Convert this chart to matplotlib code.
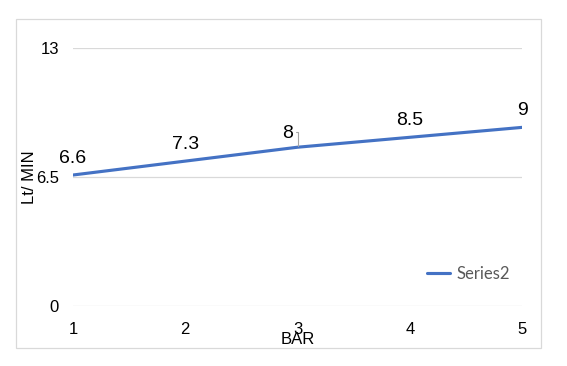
import matplotlib
matplotlib.use("Agg")
import matplotlib.pyplot as plt
from matplotlib.patches import Rectangle

# data
bars = [1, 2, 3, 4, 5]
flow = [6.6, 7.3, 8, 8.5, 9]
point_labels = ['6.6', '7.3', '8', '8.5', '9']
y_ticks = [0, 6.5, 13]
y_tick_labels = ['0', '6.5', '13']

plt.rcParams['font.family'] = ['Liberation Sans', 'DejaVu Sans']

fig = plt.figure(figsize=(5.67, 3.66), dpi=100)
ax = fig.add_axes([0.1287, 0.1639, 0.792, 0.705])

# chart border like the excel chart area
fig.patches.append(Rectangle((16 / 567, 1 - 348 / 366), (541 - 16) / 567, (348 - 19) / 366,
                             transform=fig.transFigure, fill=False,
                             edgecolor='#D9D9D9', linewidth=0.9))

ax.plot(bars, flow, color='#4472C4', linewidth=2.25, label='Series2',
        solid_capstyle='round', zorder=3)

# data labels
for x, y, lab in zip(bars, flow, point_labels):
    if lab == '8':
        ax.annotate(lab, xy=(x, y), xytext=(-7.2, 9.6), textcoords='offset points',
                    ha='center', va='center', fontsize=14,
                    arrowprops=dict(arrowstyle='-', color='#A6A6A6', lw=0.8,
                                    connectionstyle='angle,angleA=0,angleB=90,rad=0',
                                    relpos=(1, 0.62), shrinkA=0, shrinkB=1))
    else:
        ax.annotate(lab, xy=(x, y), xytext=(0, 12.2), textcoords='offset points',
                    ha='center', va='center', fontsize=14)

ax.set_xlim(1, 5)
ax.set_ylim(0, 13)
ax.set_xticks(bars)
ax.set_yticks(y_ticks)
ax.set_yticklabels(y_tick_labels)
ax.tick_params(axis='both', length=0, labelsize=12, colors='black')
ax.tick_params(axis='x', pad=11.5)
ax.tick_params(axis='y', pad=10)

ax.grid(axis='y', color='#D9D9D9', linewidth=0.9)
ax.set_axisbelow(True)
for s in ax.spines.values():
    s.set_visible(False)

ax.set_xlabel('BAR', fontsize=12)
ax.set_ylabel('Lt/ MIN', fontsize=12)
ax.xaxis.set_label_coords(0.5, -0.101)
ax.yaxis.set_label_coords(-0.080, 0.5)

leg = ax.legend(loc='center left', bbox_to_anchor=(427 / 567, 1 - 274 / 366),
                bbox_transform=fig.transFigure, frameon=False, borderpad=0,
                borderaxespad=0, handlelength=1.4, handletextpad=0.35,
                prop={'family': 'Lato', 'size': 12})
for t in leg.get_texts():
    t.set_color('#595959')

fig.savefig('out.png', dpi=100)
